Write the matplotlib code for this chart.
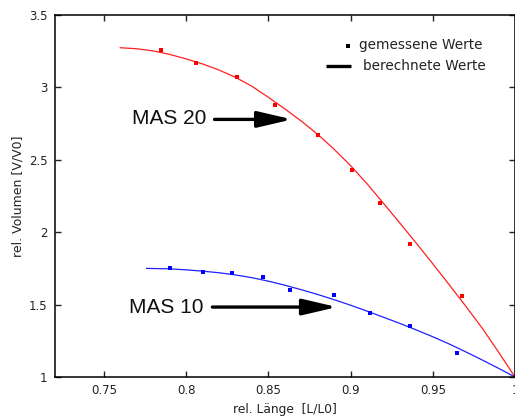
import matplotlib
matplotlib.use("Agg")
import matplotlib.pyplot as plt

# Measured volume ratios
mas20_x = [0.785, 0.806, 0.831, 0.854, 0.880, 0.901, 0.918, 0.936, 0.968]
mas20_y = [3.26, 3.17, 3.075, 2.875, 2.67, 2.43, 2.20, 1.92, 1.56]
mas10_x = [0.790, 0.810, 0.828, 0.847, 0.863, 0.890, 0.912, 0.936, 0.965]
mas10_y = [1.75, 1.725, 1.715, 1.69, 1.60, 1.565, 1.44, 1.35, 1.165]

# Calculated curves
calc20_x = [0.760, 0.770, 0.780, 0.790, 0.800, 0.810, 0.820, 0.830, 0.840,
            0.850, 0.860, 0.870, 0.880, 0.890, 0.900, 0.910, 0.920, 0.930,
            0.940, 0.950, 0.960, 0.970, 0.980, 0.990, 1.000]
calc20_y = [3.274, 3.267, 3.252, 3.228, 3.197, 3.162, 3.120, 3.070, 3.008,
            2.932, 2.852, 2.768, 2.676, 2.573, 2.460, 2.335, 2.200, 2.063,
            1.924, 1.782, 1.637, 1.490, 1.338, 1.172, 1.000]
calc10_x = [0.776, 0.790, 0.800, 0.810, 0.820, 0.830, 0.840, 0.850, 0.860,
            0.870, 0.880, 0.890, 0.900, 0.910, 0.920, 0.930, 0.940, 0.950,
            0.960, 0.970, 0.980, 0.990, 1.000]
calc10_y = [1.750, 1.747, 1.740, 1.731, 1.720, 1.705, 1.686, 1.662, 1.634,
            1.603, 1.570, 1.534, 1.496, 1.455, 1.413, 1.370, 1.325, 1.278,
            1.228, 1.174, 1.118, 1.060, 1.000]

x_ticks = [0.75, 0.8, 0.85, 0.9, 0.95, 1.0]
x_tick_labels = ["0.75", "0.8", "0.85", "0.9", "0.95", "1"]
y_ticks = [1, 1.5, 2, 2.5, 3, 3.5]
y_tick_labels = ["1", "1.5", "2", "2.5", "3", "3.5"]

plt.rcParams["font.family"] = ["DejaVu Sans"]

fig = plt.figure(figsize=(5.15, 4.18), dpi=100)
ax = fig.add_axes([54.5 / 515, 1 - 377 / 418, 1 - 54.5 / 515, (377 - 15) / 418])

ax.plot(calc20_x, calc20_y, color="#ff2020", lw=0.9)
ax.plot(calc10_x, calc10_y, color="#2020ff", lw=0.9)
ax.plot(mas20_x, mas20_y, ls="none", marker="s", ms=3, color="#ff0000", mew=0)
ax.plot(mas10_x, mas10_y, ls="none", marker="s", ms=3, color="#0000ff", mew=0)

ax.set_xlim(0.72, 1.0)
ax.set_ylim(1.0, 3.5)
ax.set_xticks(x_ticks)
ax.set_xticklabels(x_tick_labels)
ax.set_yticks(y_ticks)
ax.set_yticklabels(y_tick_labels)
ax.tick_params(direction="in", length=4, width=1, top=True, right=True,
               labelsize=8.5, colors="#222222", pad=5)
for s in ax.spines.values():
    s.set_linewidth(1.1)
    s.set_color("black")

ax.set_xlabel("rel. Länge  [L/L0]", fontsize=8.8, color="#222222", labelpad=4)
ax.set_ylabel("rel. Volumen [V/V0]", fontsize=9, color="#222222", labelpad=3.5)

# Series labels with arrows
arrow_kw = dict(arrowstyle="-|>,head_length=1.5,head_width=0.35",
                color="black", lw=2.4, mutation_scale=14, shrinkA=0, shrinkB=0)
ax.annotate("", xy=(0.8645, 2.779), xytext=(0.8173, 2.779), arrowprops=arrow_kw)
ax.annotate("", xy=(0.8918, 1.483), xytext=(0.816, 1.483), arrowprops=arrow_kw)
ax.text(0.790, 2.783, "MAS 20", fontsize=15, family="Liberation Sans",
        ha="center", va="center", color="#111111")
ax.text(0.788, 1.479, "MAS 10", fontsize=15, family="Liberation Sans",
        ha="center", va="center", color="#111111")

# Key, placed in axes fractions
tr = ax.transAxes
ax.plot([0.6373], [0.9144], transform=tr, ls="none", marker="s", ms=3,
        color="black", mew=0)
ax.plot([0.5896, 0.6439], [0.8591, 0.8591], transform=tr, color="black", lw=2.4,
        solid_capstyle="butt")
ax.text(0.6612, 0.9171, "gemessene Werte", transform=tr, fontsize=9.8,
        ha="left", va="center", color="#222222")
ax.text(0.6699, 0.8591, "berechnete Werte", transform=tr, fontsize=9.8,
        ha="left", va="center", color="#222222")

fig.savefig("out.png", dpi=100)
